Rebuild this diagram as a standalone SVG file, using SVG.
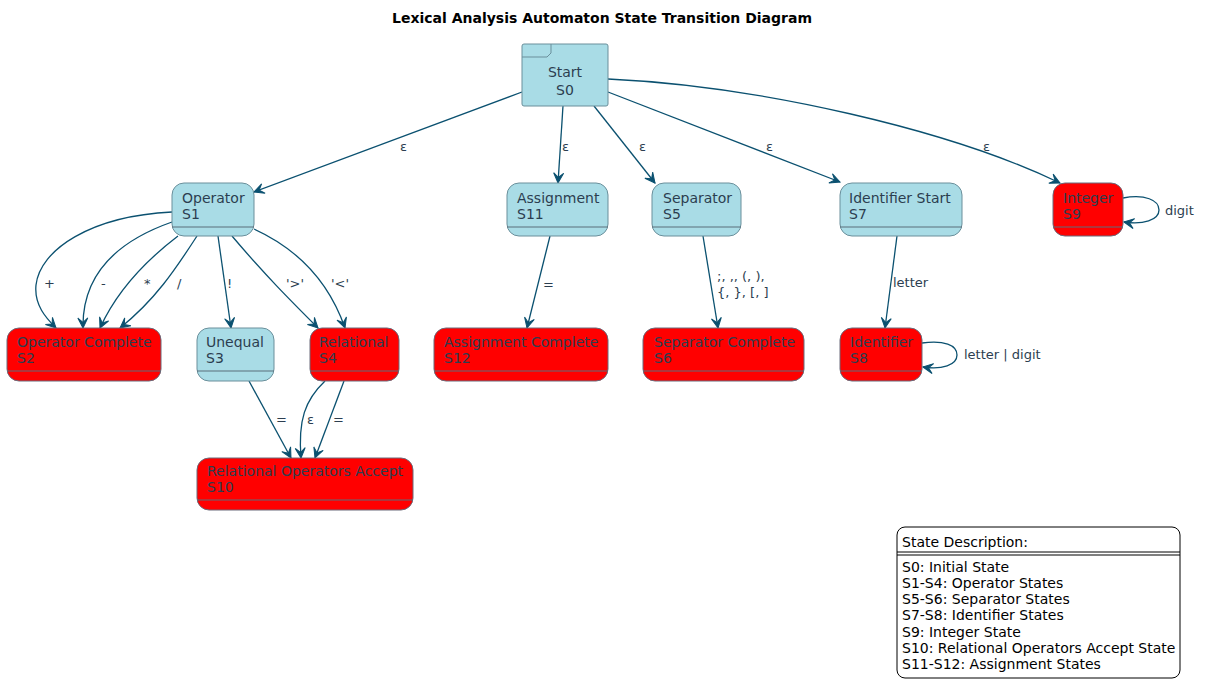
<svg xmlns="http://www.w3.org/2000/svg" width="1205" height="697" viewBox="0 0 1205 697">
<style>
.title{font-family:"DejaVu Sans",sans-serif;font-size:14px;font-weight:bold;fill:#000}
.nt{font-family:"DejaVu Sans",sans-serif;font-size:14px;fill:#2c3e50}
.lb{font-family:"DejaVu Sans",sans-serif;font-size:13px;fill:#2c3e50}
.lg{font-family:"DejaVu Sans",sans-serif;font-size:14px;fill:#000}
.blue{fill:#a9dce6;stroke:#6a8f9b;stroke-width:1}
.red{fill:#ff0000;stroke:#6a6a7a;stroke-width:1}
.div{stroke:#5a6f7a;stroke-width:1}
.e{fill:none;stroke:#0b5170;stroke-width:1.3;marker-end:url(#arr)}
</style>
<defs>
<marker id="arr" viewBox="-11 -6 12 12" refX="0" refY="0" markerWidth="12" markerHeight="12" markerUnits="userSpaceOnUse" orient="auto">
<path d="M0,0 L-10,-5 L-5.5,0 L-10,5 Z" fill="#0b5170" stroke="#0b5170" stroke-width="1"/>
</marker>
</defs>
<rect width="1205" height="697" fill="#fff"/>
<text class="title" x="602" y="23" text-anchor="middle">Lexical Analysis Automaton State Transition Diagram</text>

<g id="connectors">
<path class="e" d="M522,92 L254,192"/>
<path class="e" d="M563,106 L558,183"/>
<path class="e" d="M594,106 L655,183"/>
<path class="e" d="M608,92 L840,182"/>
<path class="e" d="M608,79 C760,86 950,130 1060,183"/>
<path class="e" d="M1123,198 C1145,194 1159,200 1159,210 C1159,220 1143,225 1124,222"/>
<path class="e" d="M922,343 C944,340 957,345 957,355 C957,365 942,370 923,367"/>
<path class="e" d="M897,236 L885,328"/>
<path class="e" d="M550,236 L527,328"/>
<path class="e" d="M703,236 L718,328"/>
<path class="e" d="M172,212 C90,216 40,250 36,285 C34,305 46,318 56,328"/>
<path class="e" d="M172,222 C115,242 82,275 83,328"/>
<path class="e" d="M178,236 C140,265 115,295 100,328"/>
<path class="e" d="M197,236 C175,270 155,300 120,328"/>
<path class="e" d="M218,236 L231,328"/>
<path class="e" d="M232,236 C265,275 290,300 318,328"/>
<path class="e" d="M254,229 C300,250 330,285 345,328"/>
<path class="e" d="M249,381 L291,458"/>
<path class="e" d="M325,381 C305,400 298,420 301,458"/>
<path class="e" d="M344,381 L315,458"/>
<text class="lb" x="400" y="151">ε</text>
<text class="lb" x="562" y="151">ε</text>
<text class="lb" x="639" y="151">ε</text>
<text class="lb" x="766" y="151">ε</text>
<text class="lb" x="983" y="151">ε</text>
<text class="lb" x="1165" y="215">digit</text>
<text class="lb" x="964" y="359">letter | digit</text>
<text class="lb" x="893" y="287">letter</text>
<text class="lb" x="543" y="289">=</text>
<text class="lb" x="717" y="281">;, ,, (, ),</text>
<text class="lb" x="717" y="297">{, }, [, ]</text>
<text class="lb" x="44" y="288">+</text>
<text class="lb" x="101" y="288">-</text>
<text class="lb" x="144" y="288">*</text>
<text class="lb" x="177" y="288">/</text>
<text class="lb" x="227" y="288">!</text>
<text class="lb" x="286" y="288">'&gt;'</text>
<text class="lb" x="331" y="288">'&lt;'</text>
<text class="lb" x="276" y="424">=</text>
<text class="lb" x="307" y="424">ε</text>
<text class="lb" x="333" y="424">=</text>
</g>

<g id="S0">
<rect class="blue" x="522" y="44" width="86" height="62" rx="2"/>
<path d="M522,57 L547,57 L551,53 L551,44" fill="none" stroke="#6a8f9b"/>
<text class="nt" x="565" y="77" text-anchor="middle">Start</text>
<text class="nt" x="565" y="95" text-anchor="middle">S0</text>
</g>
<g id="S1">
<rect class="blue" x="172" y="183" width="82" height="53" rx="12"/>
<line class="div" x1="172" y1="227" x2="254" y2="227"/>
<text class="nt" x="182" y="203">Operator</text>
<text class="nt" x="182" y="219">S1</text>
</g>
<g id="S11">
<rect class="blue" x="507" y="183" width="101" height="53" rx="12"/>
<line class="div" x1="507" y1="227" x2="608" y2="227"/>
<text class="nt" x="517" y="203">Assignment</text>
<text class="nt" x="517" y="219">S11</text>
</g>
<g id="S5">
<rect class="blue" x="652" y="183" width="89" height="53" rx="12"/>
<line class="div" x1="652" y1="227" x2="741" y2="227"/>
<text class="nt" x="663" y="203">Separator</text>
<text class="nt" x="663" y="219">S5</text>
</g>
<g id="S7">
<rect class="blue" x="840" y="183" width="122" height="53" rx="12"/>
<line class="div" x1="840" y1="227" x2="962" y2="227"/>
<text class="nt" x="849" y="203">Identifier Start</text>
<text class="nt" x="849" y="219">S7</text>
</g>
<g id="S9">
<rect class="red" x="1053" y="183" width="70" height="53" rx="12"/>
<line class="div" x1="1053" y1="227" x2="1123" y2="227"/>
<text class="nt" x="1063" y="203">Integer</text>
<text class="nt" x="1063" y="219">S9</text>
</g>
<g id="S2">
<rect class="red" x="7" y="328" width="154" height="53" rx="12"/>
<line class="div" x1="7" y1="371" x2="161" y2="371"/>
<text class="nt" x="17" y="347">Operator Complete</text>
<text class="nt" x="17" y="363">S2</text>
</g>
<g id="S3">
<rect class="blue" x="197" y="328" width="77" height="53" rx="12"/>
<line class="div" x1="197" y1="371" x2="274" y2="371"/>
<text class="nt" x="206" y="347">Unequal</text>
<text class="nt" x="206" y="363">S3</text>
</g>
<g id="S4">
<rect class="red" x="310" y="328" width="89" height="53" rx="12"/>
<line class="div" x1="310" y1="371" x2="399" y2="371"/>
<text class="nt" x="319" y="347">Relational</text>
<text class="nt" x="319" y="363">S4</text>
</g>
<g id="S12">
<rect class="red" x="434" y="328" width="174" height="53" rx="12"/>
<line class="div" x1="434" y1="371" x2="608" y2="371"/>
<text class="nt" x="444" y="347">Assignment Complete</text>
<text class="nt" x="444" y="363">S12</text>
</g>
<g id="S6">
<rect class="red" x="643" y="328" width="161" height="53" rx="12"/>
<line class="div" x1="643" y1="371" x2="804" y2="371"/>
<text class="nt" x="654" y="347">Separator Complete</text>
<text class="nt" x="654" y="363">S6</text>
</g>
<g id="S8">
<rect class="red" x="840" y="328" width="82" height="53" rx="12"/>
<line class="div" x1="840" y1="371" x2="922" y2="371"/>
<text class="nt" x="850" y="347">Identifier</text>
<text class="nt" x="850" y="363">S8</text>
</g>
<g id="S10">
<rect class="red" x="197" y="458" width="216" height="52" rx="12"/>
<line class="div" x1="197" y1="500" x2="413" y2="500"/>
<text class="nt" x="207" y="476">Relational Operators Accept</text>
<text class="nt" x="207" y="492">S10</text>
</g>
<g id="legend">
<rect x="897" y="527" width="283" height="151" rx="8" fill="#fff" stroke="#000" stroke-width="1"/>
<line x1="897" y1="552" x2="1180" y2="552" stroke="#000"/>
<line x1="897" y1="555" x2="1180" y2="555" stroke="#000"/>
<text class="lg" x="902" y="547">State Description:</text>
<text class="lg" x="902" y="572">S0: Initial State</text>
<text class="lg" x="902" y="588">S1-S4: Operator States</text>
<text class="lg" x="902" y="604">S5-S6: Separator States</text>
<text class="lg" x="902" y="620">S7-S8: Identifier States</text>
<text class="lg" x="902" y="637">S9: Integer State</text>
<text class="lg" x="902" y="653">S10: Relational Operators Accept State</text>
<text class="lg" x="902" y="669">S11-S12: Assignment States</text>
</g>
</svg>
